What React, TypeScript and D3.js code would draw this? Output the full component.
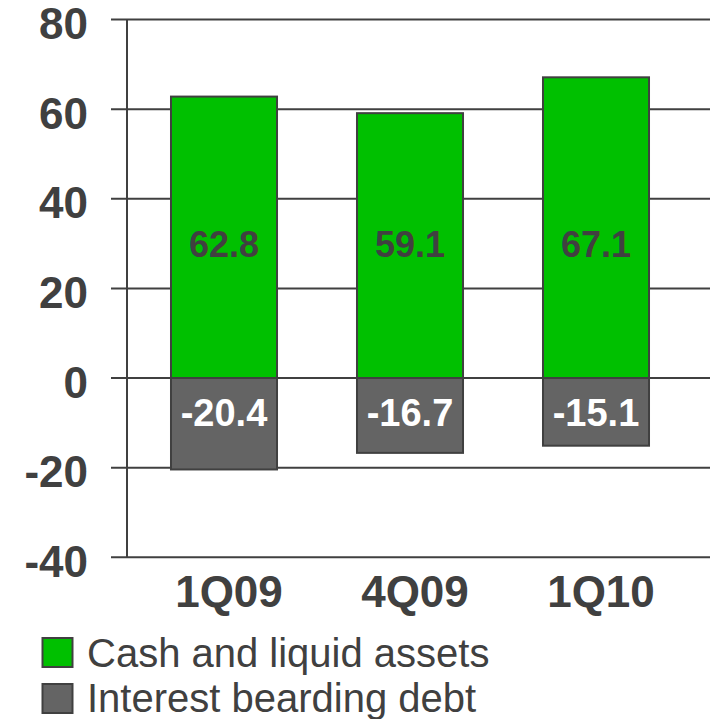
import React from "react";
import * as d3 from "d3";

const categories = ["1Q09", "4Q09", "1Q10"];
const cashValues = [62.8, 59.1, 67.1];
const debtValues = [-20.4, -16.7, -15.1];
const yTicks = [-40, -20, 0, 20, 40, 60, 80];
const legendLabels = ["Cash and liquid assets", "Interest bearding debt"];

const W = 710;
const H = 719;
const GREEN = "#00C000";
const GRAY = "#646464";
const DARK = "#404040";
const FONT = "'Liberation Sans', Arial, sans-serif";

export default function App() {
  const y = d3.scaleLinear().domain([-40, 80]).range([557.3, 19.5]);
  const x = d3
    .scaleBand<string>()
    .domain(categories)
    .range([131, 689])
    .paddingInner(0.43)
    .paddingOuter(0.215);
  const axisX = 127;
  const bw = x.bandwidth();
  const posLabelY = y(30);
  const negLabelY = y(-7.6);

  return (
    <svg
      width={W}
      height={H}
      style={{ position: "absolute", left: 0, top: 0, display: "block" }}
      fontFamily={FONT}
    >
      <rect x={0} y={0} width={W} height={H} fill="#fff" />
      {yTicks.map((t) => (
        <g key={t}>
          <line x1={111} x2={W} y1={y(t)} y2={y(t)} stroke={DARK} strokeWidth={2} />
          <text
            x={88}
            y={y(t) + 19.5}
            textAnchor="end"
            fontSize={44}
            fontWeight="bold"
            fill={DARK}
          >
            {t}
          </text>
        </g>
      ))}
      <line x1={axisX} x2={axisX} y1={y(80)} y2={y(-40)} stroke={DARK} strokeWidth={2} />
      {categories.map((c, i) => {
        const x0 = x(c)!;
        return (
          <g key={c}>
            <rect
              x={x0}
              y={y(cashValues[i])}
              width={bw}
              height={y(0) - y(cashValues[i])}
              fill={GREEN}
              stroke={DARK}
              strokeWidth={2}
            />
            <rect
              x={x0}
              y={y(0)}
              width={bw}
              height={y(debtValues[i]) - y(0)}
              fill={GRAY}
              stroke={DARK}
              strokeWidth={2}
            />
            <text
              x={x0 + bw / 2}
              y={posLabelY + 13}
              textAnchor="middle"
              fontSize={36}
              fontWeight="bold"
              fill={DARK}
            >
              {cashValues[i].toFixed(1)}
            </text>
            <text
              x={x0 + bw / 2}
              y={negLabelY + 14}
              textAnchor="middle"
              fontSize={38}
              fontWeight="bold"
              fill="#fff"
            >
              {debtValues[i].toFixed(1)}
            </text>
            <text
              x={x0 + bw / 2 + 5}
              y={607}
              textAnchor="middle"
              fontSize={44}
              fontWeight="bold"
              fill={DARK}
            >
              {c}
            </text>
          </g>
        );
      })}
      {legendLabels.map((l, i) => (
        <g key={l}>
          <rect
            x={42.5}
            y={638 + i * 46}
            width={30}
            height={29}
            fill={i === 0 ? GREEN : GRAY}
            stroke={DARK}
            strokeWidth={2}
          />
          <text x={87} y={666.5 + i * 45.5} fontSize={40} fill={DARK}>
            {l}
          </text>
        </g>
      ))}
    </svg>
  );
}
